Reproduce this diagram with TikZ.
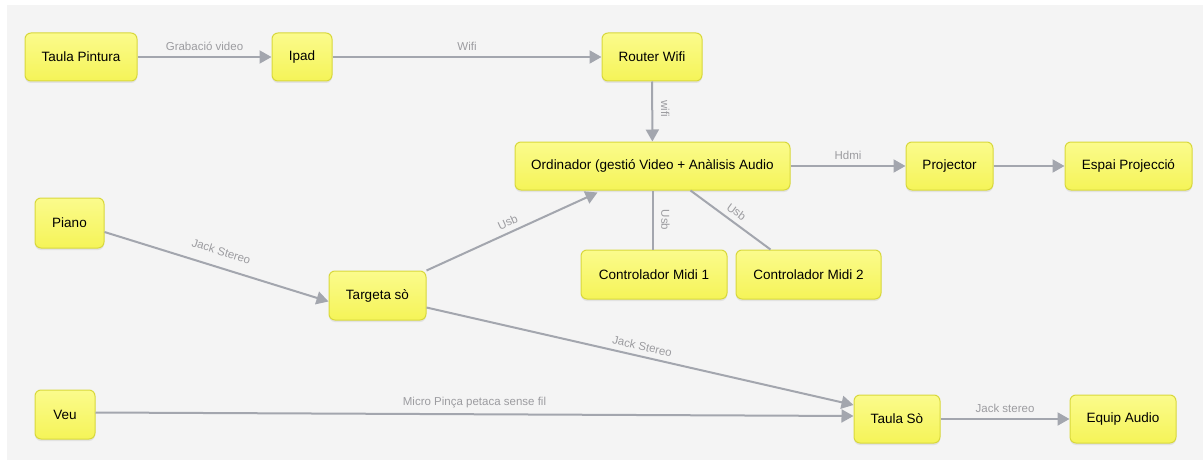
\documentclass[tikz,border=0pt]{standalone}
\usepackage{fontspec}
\setmainfont{Liberation Sans}
\usetikzlibrary{arrows.meta,shadows}
\definecolor{bgc}{HTML}{F4F4F4}
\definecolor{yfill}{HTML}{F5F458}
\definecolor{ytop}{HTML}{FBFB8C}
\definecolor{yborder}{HTML}{D8D83C}
\definecolor{edgec}{HTML}{A3A6AE}
\definecolor{labc}{HTML}{9C9CA0}
\tikzset{
  box/.style={draw=yborder, line width=1pt, rounded corners=6pt,
    top color=ytop, bottom color=yfill, minimum height=48pt, inner sep=2pt,
    text=black, font=\fontsize{13.5}{15}\selectfont,
    drop shadow={shadow xshift=0pt, shadow yshift=-2pt, opacity=0.15}},
  conn/.style={draw=edgec, line width=2pt},
  arr/.style={conn, -{Triangle[length=12pt,width=13pt]}},
  lab/.style={font=\fontsize{11.5}{13}\selectfont, text=labc, inner sep=1pt},
}
\begin{document}
\begin{tikzpicture}[x=1pt,y=-1pt]
\useasboundingbox (0,0) rectangle (1203,460);
\fill[white] (0,0) rectangle (1203,460);
\fill[bgc] (7,5) rectangle (1203,460);

\node[box, minimum width=112pt] (tp) at (81,57) {Taula Pintura};
\node[box, minimum width=60pt] (ipad) at (302,57) {Ipad};
\node[box, minimum width=100pt] (router) at (652,57) {Router Wifi};
\node[box, minimum width=275pt] (ord) at (652.5,166) {Ordinador (gestió Video + Anàlisis Audio};
\node[box, minimum width=87pt] (proj) at (949.5,166) {Projector};
\node[box, minimum width=127pt] (espai) at (1128.5,166) {Espai Projecció};
\node[box, minimum width=69pt, minimum height=50pt] (piano) at (69.5,223) {Piano};
\node[box, minimum width=97pt, minimum height=49pt] (targ) at (377.5,295.5) {Targeta sò};
\node[box, minimum width=146pt, minimum height=49pt] (midi1) at (654,274.5) {Controlador Midi 1};
\node[box, minimum width=145pt, minimum height=49pt] (midi2) at (808.5,274.5) {Controlador Midi 2};
\node[box, minimum width=60pt, minimum height=49pt] (veu) at (65,414.5) {Veu};
\node[box, minimum width=86pt] (tso) at (897,419) {Taula Sò};
\node[box, minimum width=106pt] (equip) at (1123,419) {Equip Audio};

\draw[arr] (tp) -- node[lab, above=4pt] {Grabació video} (ipad);
\draw[arr] (ipad) -- node[lab, above=4pt] {Wifi} (router);
\draw[arr] (router) -- (ord);
\path (router.south) -- node[pos=0.45, lab, xshift=13pt, rotate=-90] {wifi} (ord.north);
\draw[arr] (ord) -- node[lab, above=4pt] {Hdmi} (proj);
\draw[arr] (proj) -- (espai);
\draw[arr] ([yshift=-9pt]piano.east) -- node[lab, sloped, above=10pt] {Jack Stereo} ([yshift=-6pt]targ.west);
\draw[arr] (targ.north east) -- node[lab, sloped, above=4pt] {Usb} ([xshift=-55pt,yshift=-2pt]ord.south);
\draw[conn] (midi1.north -| ord.south) -- (ord.south);
\path (midi1.north -| ord.south) -- node[lab, xshift=13pt, rotate=-90] {Usb} (ord.south);
\draw[conn] ([xshift=-38pt]midi2.north) -- node[lab, sloped, above=4pt] {Usb} ([xshift=38pt]ord.south);
\draw[arr] ([yshift=-12pt]targ.east) -- node[lab, sloped, above=4pt] {Jack Stereo} ([yshift=14pt]tso.west);
\draw[arr] ([yshift=2pt]veu.east) -- node[lab, above=4pt] {Micro Pinça petaca sense fil} ([yshift=3pt]tso.west);
\draw[arr] (tso) -- node[lab, above=4pt] {Jack stereo} (equip);
\end{tikzpicture}
\end{document}
